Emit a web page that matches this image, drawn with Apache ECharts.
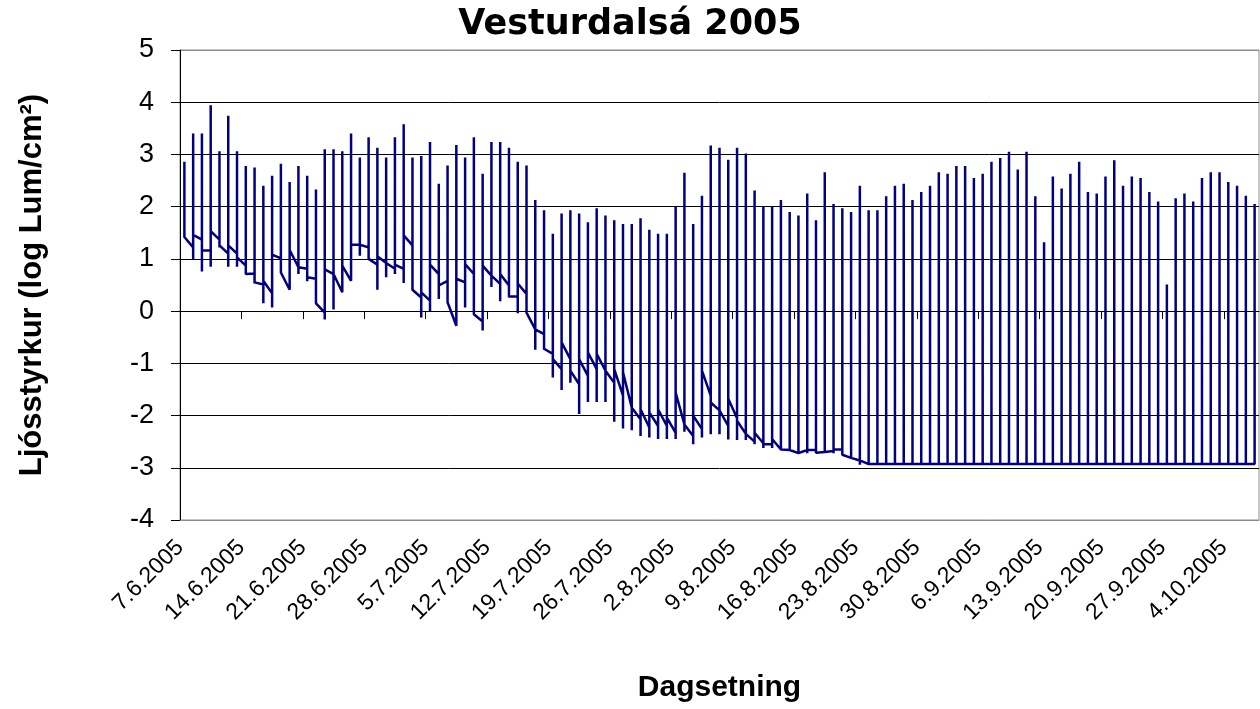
<!DOCTYPE html>
<html>
<head>
<meta charset="utf-8">
<title>Vesturdalsá 2005</title>
<script src="https://cdn.jsdelivr.net/npm/echarts@6/dist/echarts.min.js"></script>
<style>
  html, body { margin: 0; background: #fff; }
  #main { width: 1260px; height: 709px; }
</style>
</head>
<body>
<div id="main"></div>
<script>
// x ticks, one per week, first tick = first day of the series (7.6.2005)
const tickLabels = ['7.6.2005', '14.6.2005', '21.6.2005', '28.6.2005', '5.7.2005', '12.7.2005',
  '19.7.2005', '26.7.2005', '2.8.2005', '9.8.2005', '16.8.2005', '23.8.2005', '30.8.2005',
  '6.9.2005', '13.9.2005', '20.9.2005', '27.9.2005', '4.10.2005'];
const daysPerTick = 7;
const dayCount = 123;

// per day: value at start of day, lowest, highest and value at end of day
const dayFirst = [
  1.42, 1.22, 1.37, 1.16, 1.37, 1.10, 1.10, 0.87, 0.72, 0.51,
  0.34, 1.01, 0.41, 0.84, 0.81, 0.62, -0.03, 0.71, 0.36, 0.58,
  1.27, 1.22, 0.89, 0.92, 0.81, 0.81, 1.26, 0.26, 0.20, 0.71,
  0.58, -0.28, 0.55, 0.71, -0.20, 0.68, 0.52, 0.49, 0.28, 0.33,
  -0.35, -0.44, -0.82, -1.11, -0.92, -1.40, -1.24, -1.11, -1.14, -1.37,
  -1.62, -1.85, -2.07, -2.23, -2.20, -2.20, -2.33, -2.17, -2.39, -2.26,
  -1.62, -1.90, -2.20, -2.05, -2.35, -2.50, -2.53, -2.55, -2.65, -2.66,
  -2.72, -2.66, -2.66, -2.70, -2.68, -2.65, -2.81, -2.86, -2.93, -2.93,
  -2.93, -2.93, -2.93, -2.93, -2.93, -2.93, -2.93, -2.93, -2.93, -2.93,
  -2.93, -2.93, -2.93, -2.93, -2.93, -2.93, -2.93, -2.93, -2.93, -2.93,
  -2.93, -2.93, -2.93, -2.93, -2.93, -2.93, -2.93, -2.93, -2.93, -2.93,
  -2.93, -2.93, -2.93, -2.93, -2.93, -2.93, -2.93, -2.93, -2.93, -2.93,
  -2.93, -2.93, -2.93
];
const dayLow = [
  1.42, 1.00, 0.76, 0.85, 1.22, 0.85, 0.85, 0.71, 0.53, 0.15,
  0.07, 0.74, 0.41, 0.71, 0.57, 0.15, -0.16, 0.03, 0.36, 0.58,
  1.06, 1.00, 0.41, 0.65, 0.71, 0.54, 0.41, -0.12, 0.00, 0.23,
  0.17, -0.28, 0.07, -0.06, -0.37, 0.46, 0.19, 0.26, -0.04, -0.03,
  -0.74, -0.74, -1.27, -1.51, -1.37, -1.97, -1.74, -1.74, -1.74, -2.12,
  -2.25, -2.28, -2.39, -2.42, -2.45, -2.45, -2.45, -2.31, -2.55, -2.42,
  -2.36, -2.36, -2.46, -2.47, -2.47, -2.55, -2.62, -2.62, -2.68, -2.68,
  -2.72, -2.72, -2.72, -2.72, -2.72, -2.72, -2.81, -2.94, -2.93, -2.93,
  -2.93, -2.93, -2.93, -2.93, -2.93, -2.93, -2.93, -2.93, -2.93, -2.93,
  -2.93, -2.93, -2.93, -2.93, -2.93, -2.93, -2.93, -2.93, -2.93, -2.93,
  -2.93, -2.93, -2.93, -2.93, -2.93, -2.93, -2.93, -2.93, -2.93, -2.93,
  -2.93, -2.93, -2.93, -2.93, -2.93, -2.93, -2.93, -2.93, -2.93, -2.93,
  -2.93, -2.93, -2.93
];
const dayHigh = [
  2.86, 3.40, 3.40, 3.94, 3.06, 3.74, 3.06, 2.78, 2.75, 2.40,
  2.59, 2.82, 2.47, 2.78, 2.59, 2.33, 3.10, 3.10, 3.06, 3.40,
  2.94, 3.33, 3.13, 2.94, 3.33, 3.58, 2.94, 2.97, 3.24, 2.44,
  2.79, 3.18, 2.94, 3.33, 2.63, 3.24, 3.24, 3.13, 2.86, 2.79,
  2.13, 1.93, 1.48, 1.87, 1.93, 1.87, 1.70, 1.97, 1.83, 1.74,
  1.67, 1.67, 1.78, 1.56, 1.48, 1.48, 2.00, 2.65, 1.67, 2.21,
  3.17, 3.13, 2.90, 3.13, 3.02, 2.31, 2.01, 2.01, 2.13, 1.90,
  1.83, 2.25, 1.74, 2.66, 2.05, 1.97, 1.90, 2.40, 1.93, 1.93,
  2.20, 2.40, 2.44, 2.13, 2.28, 2.40, 2.66, 2.63, 2.78, 2.78,
  2.55, 2.63, 2.86, 2.93, 3.05, 2.71, 3.05, 2.20, 1.32, 2.58,
  2.35, 2.63, 2.86, 2.28, 2.25, 2.58, 2.89, 2.40, 2.58, 2.55,
  2.28, 2.10, 0.51, 2.16, 2.25, 2.10, 2.55, 2.66, 2.66, 2.47,
  2.40, 2.21, 2.05
];
const dayLast = [
  1.42, 1.46, 1.16, 1.53, 1.26, 1.26, 1.03, 0.71, 0.55, 0.58,
  1.08, 0.74, 1.17, 0.84, 0.65, 0.15, 0.80, 0.71, 0.87, 1.27,
  1.27, 1.00, 1.05, 0.92, 0.89, 1.45, 0.41, 0.36, 0.89, 0.49,
  0.17, 0.62, 0.90, -0.06, 0.87, 0.68, 0.71, 0.28, 0.53, -0.03,
  -0.35, -0.72, -0.92, -0.60, -1.14, -0.92, -0.79, -0.82, -1.14, -1.11,
  -1.17, -1.85, -1.88, -1.94, -1.88, -2.04, -1.56, -2.17, -2.00, -1.14,
  -1.75, -1.90, -1.68, -2.10, -2.35, -2.33, -2.55, -2.45, -2.65, -2.66,
  -2.72, -2.66, -2.71, -2.70, -2.65, -2.75, -2.81, -2.86, -2.93, -2.93,
  -2.93, -2.93, -2.93, -2.93, -2.93, -2.93, -2.93, -2.93, -2.93, -2.93,
  -2.93, -2.93, -2.93, -2.93, -2.93, -2.93, -2.93, -2.93, -2.93, -2.93,
  -2.93, -2.93, -2.93, -2.93, -2.93, -2.93, -2.93, -2.93, -2.93, -2.93,
  -2.93, -2.93, -2.93, -2.93, -2.93, -2.93, -2.93, -2.93, -2.93, -2.93,
  -2.93, -2.93, -2.93
];

// Excel date axis puts all readings of a day on the same x (middle of the day)
const points = [];
dayHigh.forEach((hi, d) => {
  const x = d + 0.5;
  points.push([x, dayFirst[d]], [x, dayLow[d]], [x, hi], [x, dayLast[d]]);
});

const tickValues = tickLabels.map((t, i) => i * daysPerTick);

const myChart = echarts.init(document.getElementById('main'));
myChart.setOption({
  animation: false,
  title: {
    text: 'Vesturdalsá 2005',
    left: 'center',
    top: 2,
    textStyle: { fontFamily: 'DejaVu Sans', fontWeight: 'bold', fontSize: 35, color: '#000' }
  },
  grid: {
    left: 180, right: 1, top: 50, bottom: 189,
    show: true, borderColor: '#8c8c8c', borderWidth: 1
  },
  xAxis: [
    {
      type: 'value',
      position: 'bottom',
      min: 0,
      max: dayCount,
      axisLine: { onZero: false, lineStyle: { color: '#8c8c8c', width: 1 } },
      axisTick: { show: false },
      splitLine: { show: false },
      axisLabel: {
        customValues: tickValues,
        rotate: 45,
        margin: 24,
        fontFamily: 'Liberation Sans',
        fontSize: 23,
        color: '#000',
        formatter: v => tickLabels[Math.round(v / daysPerTick)] || ''
      },
      name: 'Dagsetning',
      nameLocation: 'middle',
      nameGap: 153,
      nameTextStyle: { fontFamily: 'Liberation Sans', fontWeight: 'bold', fontSize: 30, color: '#000' }
    },
    {
      // the zero line carries the week ticks
      type: 'value',
      position: 'top',
      min: 0,
      max: dayCount,
      axisLine: { onZero: true, lineStyle: { color: '#000', width: 1 } },
      axisTick: { customValues: tickValues, inside: true, length: 8, lineStyle: { color: '#000' } },
      axisLabel: { show: false },
      splitLine: { show: false }
    }
  ],
  yAxis: {
    type: 'value',
    min: -4,
    max: 5,
    interval: 1,
    axisLine: { show: true, lineStyle: { color: '#000', width: 1 } },
    axisTick: { show: true, length: 9, lineStyle: { color: '#000' } },
    axisLabel: { margin: 26, fontFamily: 'Liberation Sans', fontSize: 27, color: '#000' },
    splitLine: {
      lineStyle: {
        color: ['#8c8c8c', '#000', '#000', '#000', '#000', '#000', '#000', '#000', '#000', '#8c8c8c'],
        width: 1
      }
    },
    name: 'Ljósstyrkur (log Lum/cm²)',
    nameLocation: 'middle',
    nameGap: 132,
    nameTextStyle: { fontFamily: 'Liberation Sans', fontWeight: 'bold', fontSize: 31, color: '#000' }
  },
  series: [
    {
      name: 'Ljósstyrkur',
      type: 'line',
      xAxisIndex: 0,
      data: points,
      showSymbol: false,
      symbol: 'none',
      lineStyle: { color: '#000080', width: 2.5 }
    }
  ]
});
</script>
</body>
</html>
